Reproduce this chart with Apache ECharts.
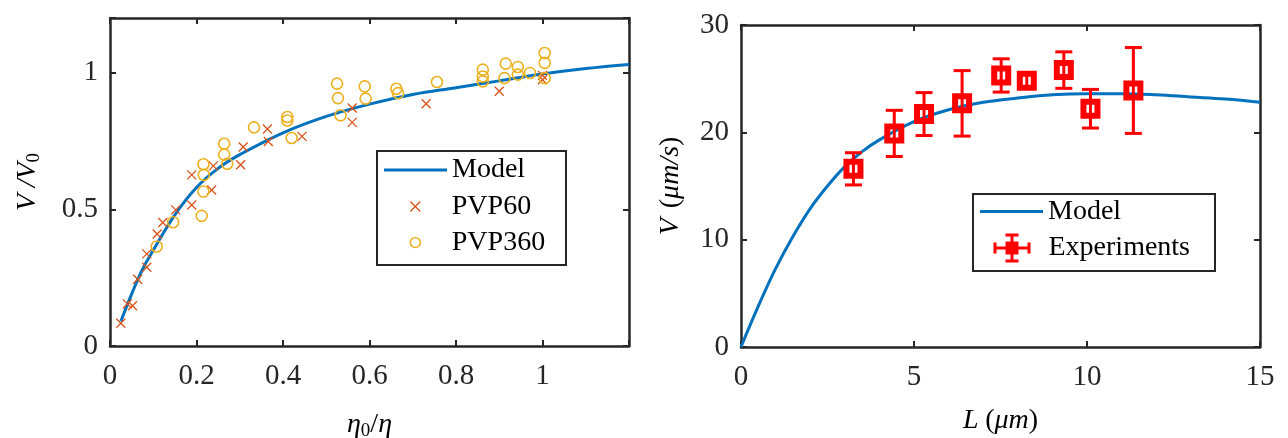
<!DOCTYPE html>
<html lang="en">
<head>
    <meta charset="UTF-8">
    <title>V/V0 and V vs L</title>
    <script src="https://cdn.jsdelivr.net/npm/echarts@6/dist/echarts.min.js"></script>
    <style>
        html, body { margin: 0; padding: 0; background: #fff; }
        #main { width: 1288px; height: 438px; }
    </style>
</head>
<body>
    <div id="main"></div>
    <script>
        // left panel: model curve
        var modelX = [0.025, 0.05, 0.075, 0.1, 0.15, 0.2, 0.25, 0.3, 0.4, 0.5, 0.6, 0.7, 0.8, 0.9, 1.0, 1.1, 1.2];
        var modelY = [0.09, 0.19, 0.28, 0.35, 0.48, 0.58, 0.65, 0.70, 0.78, 0.84, 0.885, 0.92, 0.945, 0.97, 0.995, 1.015, 1.03];

        var pvp60X = [0.025, 0.04, 0.052, 0.064, 0.085, 0.085, 0.109, 0.122, 0.152, 0.189, 0.189, 0.235, 0.239, 0.302, 0.308, 0.364, 0.366, 0.444, 0.56, 0.56, 0.731, 0.9, 1.0, 1.0];
        var pvp60Y = [0.083, 0.154, 0.147, 0.244, 0.288, 0.337, 0.41, 0.452, 0.498, 0.516, 0.626, 0.571, 0.659, 0.663, 0.728, 0.794, 0.748, 0.767, 0.871, 0.818, 0.886, 0.932, 0.99, 0.974];

        var pvp360X = [0.108, 0.146, 0.212, 0.216, 0.217, 0.216, 0.264, 0.264, 0.271, 0.333, 0.41, 0.41, 0.42, 0.525, 0.527, 0.533, 0.589, 0.591, 0.662, 0.666, 0.756, 0.862, 0.862, 0.862, 0.915, 0.912, 0.943, 0.943, 0.971, 1.005, 1.005, 1.005];
        var pvp360Y = [0.364, 0.453, 0.476, 0.565, 0.626, 0.665, 0.74, 0.70, 0.667, 0.80, 0.838, 0.825, 0.761, 0.96, 0.907, 0.844, 0.95, 0.905, 0.941, 0.925, 0.966, 1.011, 0.986, 0.968, 1.033, 0.98, 1.021, 0.993, 0.999, 1.072, 1.036, 0.98];

        // right panel
        var modelL = [0, 0.5, 1, 1.5, 2, 2.5, 3, 3.5, 4, 5, 6, 7, 8, 9, 10, 11, 12, 13, 14, 15];
        var modelV = [0, 3.8, 7.3, 10.3, 12.9, 15.0, 16.8, 18.2, 19.3, 21.0, 22.1, 22.8, 23.2, 23.5, 23.6, 23.6, 23.5, 23.3, 23.1, 22.8];

        var expL = [3.25, 4.43, 5.29, 6.39, 7.52, 8.26, 9.33, 10.1, 11.34];
        var expV = [16.6, 19.9, 21.7, 22.7, 25.3, 24.8, 25.8, 22.2, 23.9];
        var expErr = [1.5, 2.15, 2.0, 3.05, 1.55, 0.7, 1.7, 1.8, 4.0];

        var leftXTicks = [0, 0.2, 0.4, 0.6, 0.8, 1];
        var leftYTicks = [0, 0.5, 1];

        function zip(a, b) {
            return a.map(function (v, i) { return [v, b[i]]; });
        }

        var FONT = 'Liberation Serif';
        var AX = '#262626';
        var BLUE = '#0072BD';

        var nameRich = {
            i: { fontFamily: FONT, fontStyle: 'italic', fontSize: 28, color: '#000' },
            n: { fontFamily: FONT, fontSize: 28, color: '#000' },
            sub: { fontFamily: FONT, fontSize: 19, color: '#000', verticalAlign: 'bottom', padding: [14, 0, 0, 0] }
        };

        function tickLabels(list) {
            return function (v) {
                for (var i = 0; i < list.length; i++) {
                    if (Math.abs(list[i] - v) < 1e-6) return String(list[i]);
                }
                return '';
            };
        }

        function baseAxis(extra) {
            var a = {
                type: 'value',
                axisLine: { show: true, onZero: false, lineStyle: { color: AX, width: 2.5 } },
                axisTick: { show: true, inside: true, length: 6, lineStyle: { color: AX, width: 2 } },
                axisLabel: { show: true, fontFamily: FONT, fontSize: 29, color: AX, margin: 12 },
                splitLine: { show: false }
            };
            for (var k in extra) a[k] = extra[k];
            return a;
        }

        function renderErrorBar(params, api) {
            var x = api.value(0);
            var top = api.coord([x, api.value(2)]);
            var bot = api.coord([x, api.value(1)]);
            var w = 8.5;
            var style = { stroke: '#FF0000', lineWidth: 3 };
            return {
                type: 'group',
                children: [
                    { type: 'line', shape: { x1: top[0], y1: top[1], x2: bot[0], y2: bot[1] }, style: style },
                    { type: 'line', shape: { x1: top[0] - w, y1: top[1], x2: top[0] + w, y2: top[1] }, style: style },
                    { type: 'line', shape: { x1: bot[0] - w, y1: bot[1], x2: bot[0] + w, y2: bot[1] }, style: style }
                ]
            };
        }

        var errData = expL.map(function (l, i) {
            return [l, expV[i] - expErr[i], expV[i] + expErr[i]];
        });

        var errIcon = 'path://M0,13h37v3H0z M0,9h3v11H0z M34,9h3v11h-3z M17,0h3v29h-3z M12,0h13v3H12z M12,26h13v3H12z M12,8h13v13H12z';
        var crossIcon = 'path://M0,0L10,10M10,0L0,10';
        var lineIcon = 'path://M0,0h63v3H0z';

        var legendText = { fontFamily: FONT, fontSize: 28, color: '#000', lineHeight: 30 };

        var myChart = echarts.init(document.getElementById('main'));

        var option = {
            animation: false,
            backgroundColor: '#fff',
            grid: [
                { left: 110, top: 18, right: 659, bottom: 92, outerBoundsMode: 'none' },
                { left: 741, top: 25, right: 28, bottom: 91, outerBoundsMode: 'none' }
            ],
            xAxis: [
                baseAxis({
                    gridIndex: 0, position: 'bottom', min: 0, max: 1.2, interval: 0.2,
                    axisLabel: { fontFamily: FONT, fontSize: 29, color: AX, margin: 16, formatter: tickLabels(leftXTicks) },
                    name: '{i|η}{sub|0}{n|/}{i|η}', nameLocation: 'middle', nameGap: 62,
                    nameTextStyle: { rich: nameRich }
                }),
                baseAxis({ gridIndex: 0, position: 'top', min: 0, max: 1.2, interval: 0.2, axisLabel: { show: false } }),
                baseAxis({
                    gridIndex: 1, position: 'bottom', min: 0, max: 15, interval: 5,
                    axisLabel: { fontFamily: FONT, fontSize: 29, color: AX, margin: 16 },
                    name: '{i|L}  {n|(}{i|μm}{n|)}', nameLocation: 'middle', nameGap: 60,
                    nameTextStyle: { rich: nameRich }
                }),
                baseAxis({ gridIndex: 1, position: 'top', min: 0, max: 15, interval: 5, axisLabel: { show: false } })
            ],
            yAxis: [
                baseAxis({
                    gridIndex: 0, position: 'left', min: 0, max: 1.2, interval: 0.5,
                    axisLabel: { fontFamily: FONT, fontSize: 29, color: AX, margin: 12, formatter: tickLabels(leftYTicks) },
                    name: '{i|V}  {i|/V}{sub|0}', nameLocation: 'middle', nameGap: 66, nameRotate: 90,
                    nameTextStyle: { rich: nameRich }
                }),
                baseAxis({ gridIndex: 0, position: 'right', min: 0, max: 1.2, interval: 0.5, axisLabel: { show: false } }),
                baseAxis({
                    gridIndex: 1, position: 'left', min: 0, max: 30, interval: 10,
                    name: '{i|V}   {n|(}{i|μm/s}{n|)}', nameLocation: 'middle', nameGap: 56, nameRotate: 90,
                    nameTextStyle: { rich: nameRich }
                }),
                baseAxis({ gridIndex: 1, position: 'right', min: 0, max: 30, interval: 10, axisLabel: { show: false } })
            ],
            legend: [
                {
                    left: 384, top: 155, orient: 'vertical', padding: 0,
                    itemWidth: 63, itemHeight: 3, textStyle: legendText,
                    data: [{ name: 'Model', icon: lineIcon, itemStyle: { color: BLUE, borderWidth: 0 } }]
                },
                {
                    left: 409.5, top: 191.5, orient: 'vertical', padding: 0, itemGap: 6,
                    itemWidth: 63, itemHeight: 10, textStyle: legendText,
                    data: [
                        { name: 'PVP60', icon: crossIcon, itemStyle: { color: 'rgba(0,0,0,0)', borderColor: '#D95319', borderWidth: 1.3 } },
                        { name: 'PVP360', icon: 'circle', itemStyle: { color: 'rgba(0,0,0,0)', borderColor: '#EDB120', borderWidth: 1.6 } }
                    ]
                },
                {
                    left: 980, top: 196.5, orient: 'vertical', padding: 0,
                    itemWidth: 63, itemHeight: 3, textStyle: legendText,
                    data: [{ name: 'Model ', icon: lineIcon, itemStyle: { color: BLUE, borderWidth: 0 } }]
                },
                {
                    left: 993.5, top: 233, orient: 'vertical', padding: 0,
                    itemWidth: 63, itemHeight: 29, textStyle: legendText,
                    data: [{ name: 'Experiments', icon: errIcon, itemStyle: { color: '#FF0000', borderWidth: 0 } }]
                }
            ],
            graphic: [
                {
                    type: 'rect', z: 1, left: 376, top: 150,
                    shape: { width: 189, height: 114 },
                    style: { fill: '#fff', stroke: AX, lineWidth: 2 }
                },
                {
                    type: 'rect', z: 1, left: 972, top: 193,
                    shape: { width: 242, height: 77 },
                    style: { fill: '#fff', stroke: AX, lineWidth: 2 }
                }
            ],
            series: [
                {
                    name: 'Model', type: 'line', xAxisIndex: 0, yAxisIndex: 0,
                    data: zip(modelX, modelY), symbol: 'none', smooth: 0.4,
                    lineStyle: { color: BLUE, width: 3 }, itemStyle: { color: BLUE }, z: 2
                },
                {
                    name: 'PVP60', type: 'scatter', xAxisIndex: 0, yAxisIndex: 0,
                    data: zip(pvp60X, pvp60Y), symbol: crossIcon, symbolSize: 9,
                    itemStyle: { color: 'rgba(0,0,0,0)', borderColor: '#D95319', borderWidth: 1.3, opacity: 1 }, z: 3
                },
                {
                    name: 'PVP360', type: 'scatter', xAxisIndex: 0, yAxisIndex: 0,
                    data: zip(pvp360X, pvp360Y), symbol: 'circle', symbolSize: 11,
                    itemStyle: { color: 'rgba(0,0,0,0)', borderColor: '#EDB120', borderWidth: 1.6, opacity: 1 }, z: 4
                },
                {
                    name: 'Model ', type: 'line', xAxisIndex: 2, yAxisIndex: 2,
                    data: zip(modelL, modelV), symbol: 'none', smooth: 0.4,
                    lineStyle: { color: BLUE, width: 3 }, itemStyle: { color: BLUE }, z: 2
                },
                {
                    name: 'Experiments', type: 'custom', xAxisIndex: 2, yAxisIndex: 2,
                    data: errData, renderItem: renderErrorBar,
                    encode: { x: 0, y: [1, 2] }, itemStyle: { color: '#FF0000' }, z: 3
                },
                {
                    name: 'Experiments', type: 'scatter', xAxisIndex: 2, yAxisIndex: 2,
                    data: zip(expL, expV), symbol: 'rect', symbolSize: 14,
                    itemStyle: { color: 'rgba(0,0,0,0)', borderColor: '#FF0000', borderWidth: 6, opacity: 1 }, z: 4
                }
            ]
        };

        myChart.setOption(option);
    </script>
</body>
</html>
